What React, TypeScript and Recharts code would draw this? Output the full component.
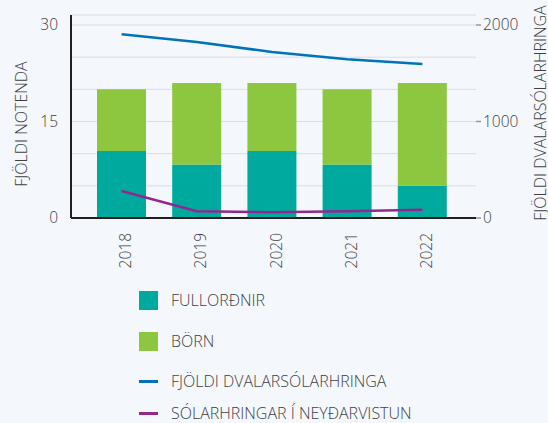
import React from 'react'
import { Bar, CartesianGrid, ComposedChart, Line, XAxis, YAxis } from 'recharts'

const years = ['2018', '2019', '2020', '2021', '2022']
const adults = [10.4, 8.3, 10.4, 8.3, 5]
const children = [9.6, 12.7, 10.6, 11.7, 16]
const nights = [1905, 1825, 1720, 1645, 1595]
const emergency = [280, 70, 60, 70, 85]

const leftTicks = [0, 5, 10, 15, 20, 25, 30]
const leftLabels = [0, 15, 30]
const rightTicks = [0, 1000, 2000]

const legendItems = [
    { name: 'FULLORÐNIR', color: '#00a99d', kind: 'box' },
    { name: 'BÖRN', color: '#8dc63f', kind: 'box' },
    { name: 'FJÖLDI DVALARSÓLARHRINGA', color: '#0072bc', kind: 'line' },
    { name: 'SÓLARHRINGAR Í NEYÐARVISTUN', color: '#92278f', kind: 'line' },
]
const legendRows = [300, 341, 381, 413]

const data = years.map((year, i) => ({
    year,
    adults: adults[i],
    children: children[i],
    nights: nights[i],
    emergency: emergency[i],
}))

const font = '"Open Sans", sans-serif'
const weight = 300
const textColor = '#414042'
const tickFont = 15.5
const titleFont = 16
// axis line runs a bit above the 30 / 2000 gridline
const stretch = 203 / 193

const LeftTick = (props: any) => {
    const { x, y, payload } = props
    if (!leftLabels.includes(payload.value)) return <g />
    return (
        <text x={x} y={y} dy="0.35em" textAnchor="end" fill={textColor} fontSize={tickFont} fontWeight={weight} fontFamily={font}>
            {payload.value}
        </text>
    )
}

const RightTick = (props: any) => {
    const { x, y, payload } = props
    return (
        <text x={x} y={y} dy="0.35em" textAnchor="start" fill={textColor} fontSize={tickFont} fontWeight={weight} fontFamily={font}>
            {payload.value}
        </text>
    )
}

const YearTick = (props: any) => {
    const { x, y, payload } = props
    return (
        <text
            transform={`translate(${x + 9.5},${y}) rotate(-90)`}
            textAnchor="end"
            fill={textColor}
            fontSize={tickFont}
            fontWeight={weight}
            fontFamily={font}
        >
            {payload.value}
        </text>
    )
}

const App = () => {
    return (
        <div
            style={{
                position: 'absolute',
                left: 0,
                top: 0,
                width: 548,
                height: 423,
                background: '#f4f8fc',
                overflow: 'hidden',
                fontFamily: font,
            }}
        >
            <ComposedChart
                width={548}
                height={423}
                data={data}
                margin={{ top: 15, right: 0, left: 0, bottom: 0 }}
            >
                <CartesianGrid vertical={false} stroke="#d9dce1" yAxisId="left" />
                <XAxis
                    dataKey="year"
                    height={205}
                    padding={{ left: 13, right: 16 }}
                    axisLine={{ stroke: '#231f20', strokeWidth: 2 }}
                    tickLine={false}
                    tickSize={0}
                    tickMargin={15}
                    tick={<YearTick />}
                    interval={0}
                />
                <YAxis
                    yAxisId="left"
                    width={71}
                    domain={[0, 30 * stretch]}
                    ticks={leftTicks}
                    allowDataOverflow
                    axisLine={{ stroke: '#231f20', strokeWidth: 2 }}
                    tickLine={false}
                    tickSize={0}
                    tickMargin={13}
                    tick={<LeftTick />}
                    label={{
                        content: () => (
                            <text
                                transform="translate(27,124) rotate(-90)"
                                textAnchor="middle"
                                fill={textColor}
                                fontSize={titleFont}
                                fontWeight={weight}
                                fontFamily={font}
                            >
                                FJÖLDI NOTENDA
                            </text>
                        ),
                    }}
                />
                <YAxis
                    yAxisId="right"
                    orientation="right"
                    width={72}
                    domain={[0, 2000 * stretch]}
                    ticks={rightTicks}
                    allowDataOverflow
                    axisLine={false}
                    tickLine={{ stroke: '#9a9a9a', strokeWidth: 1.5 }}
                    tickSize={5}
                    tickMargin={2}
                    tick={<RightTick />}
                    label={{
                        content: () => (
                            <text
                                transform="translate(546,113) rotate(-90)"
                                textAnchor="middle"
                                fill={textColor}
                                fontSize={titleFont}
                                fontWeight={weight}
                                fontFamily={font}
                            >
                                FJÖLDI DVALARSÓLARHRINGA
                            </text>
                        ),
                    }}
                />
                <Bar yAxisId="left" dataKey="adults" stackId="a" fill="#00a99d" barSize={49} isAnimationActive={false} />
                <Bar yAxisId="left" dataKey="children" stackId="a" fill="#8dc63f" barSize={49} isAnimationActive={false} />
                <Line
                    yAxisId="right"
                    dataKey="nights"
                    type="linear"
                    stroke="#0072bc"
                    strokeWidth={2.5}
                    dot={false}
                    isAnimationActive={false}
                />
                <Line
                    yAxisId="right"
                    dataKey="emergency"
                    type="linear"
                    stroke="#92278f"
                    strokeWidth={2.5}
                    dot={false}
                    isAnimationActive={false}
                />
            </ComposedChart>
            {legendItems.map((item, i) => (
                <div
                    key={item.name}
                    style={{
                        position: 'absolute',
                        left: 139,
                        top: legendRows[i] - 10,
                        height: 20,
                        display: 'flex',
                        alignItems: 'center',
                    }}
                >
                    <div
                        style={{
                            width: 19,
                            height: item.kind === 'box' ? 19 : 3,
                            background: item.color,
                            marginRight: 13,
                        }}
                    />
                    <span style={{ fontSize: titleFont, fontWeight: weight, color: textColor, whiteSpace: 'nowrap' }}>
                        {item.name}
                    </span>
                </div>
            ))}
        </div>
    )
}

export default App
